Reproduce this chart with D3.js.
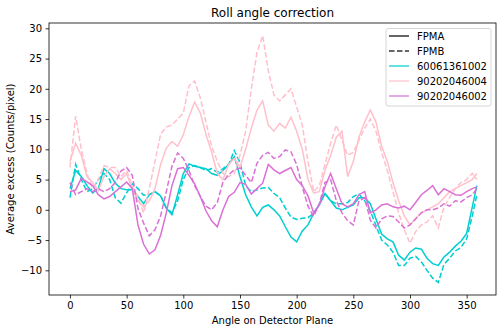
<!DOCTYPE html>
<html>
<head>
<meta charset="utf-8">
<script src="https://cdn.jsdelivr.net/npm/d3@7"></script>
<style>
body { margin: 0; background: #fff; }
text { font-family: "DejaVu Sans", sans-serif; fill: #000; }
</style>
</head>
<body>
<svg id="chart" width="502" height="333"></svg>
<script>
// angle on detector plane (deg)
var angles = [0,5,10,15,20,25,30,35,40,45, 50,55,60,65,70,75,80,85,90,95,
  100,105,110,115,120,125,130,135,140,145, 150,155,160,165,170,175,180,185,190,195,
  200,205,210,215,220,225,230,235,240,245, 250,255,260,265,270,275,280,285,290,295,
  300,305,310,315,320,325,330,335,340,345, 350,355,359];

// 60061361002
var cyanA = [3.5,6.5,5.5,4,2.8,3.5,6.8,6,4.4,3.5, 3.3,3.3,2.2,1,2.5,3,2.3,0.3,-0.8,2.5,
  6,7.6,7.2,7,6.8,6,5.7,6.5,7.5,8.8, 5.5,2.5,0.5,-1,0.4,0.8,0,-1,-2.8,-4.5,
  -5.3,-3.5,-2.5,-0.6,0.8,2.7,1.5,0.3,0,0.4, 0.8,2,2,1,-1.5,-4,-4.8,-5.3,-7.5,-8.3,
  -7,-6.3,-6.5,-8,-8.9,-9.2,-7.8,-7,-6,-5.2, -3.9,0.5,4];
var cyanB = [2,7.5,5,3,3.5,5,6,5,2,1.1, 2.8,4.3,3.5,2.4,2.5,3,2.3,0.3,-0.5,1.5,
  5,7,7.3,7,6.5,6.8,6.2,6.8,7.5,9.8, 7.8,4,3,3.3,3.6,3.7,2.7,2,0.3,-1.2,
  -1.6,-1.4,-1.3,-0.6,1,2.7,1.5,1,1,1.2, 2.2,2.6,1.5,-0.2,-2.6,-5,-5.8,-7,-9.2,-9.2,
  -8,-7.7,-8.6,-10,-11.3,-12,-9,-8,-6.8,-6.2, -4.8,-1,2.5];

// 90202046004
var pinkA = [8,11,9,5.5,4.5,3.2,5.5,6.8,6,5, 6,3.5,1.5,0.5,1.5,3.5,7.5,10.2,11.3,10.5,
  12.4,15.4,17.8,16,12.5,9.5,6,5,7.5,8.5, 7,10,13.5,16.5,18,14,13,14.3,13.5,15.3,
  13,10,5,2.8,3,6.5,9,12,13,5.5, 8,12,14.5,16.5,14.5,10.5,8,4.5,1.5,-1,
  -2.5,-1.4,-0.5,0,0.5,1,2,3,3.5,4, 4.5,5,6];
var pinkB = [7,15.5,10,6,3.5,5,7.3,7,7,5.5, 6.5,4,2,-0.5,3.5,8,12.5,13.7,14,15,
  16,20.5,21.3,18.5,14.5,10.5,8,6,5.5,6, 9,13,20,26,28.8,23,19,18,19,20,
  17,14,8,3,4,7.5,11,14,11.5,9, 9.5,11.5,13.5,15,13,9.5,6.5,3,-0.5,-3.3,
  -5.5,-3.6,-2.5,-2,-1,-3,0.5,2,3.5,4.5, 5,6,5];

// 90202046002
var magA = [3,3.3,5.2,4.6,4,2.5,1.8,2.2,3,3.8, 4.6,3.5,-2.5,-5.7,-7.3,-6.6,-4.2,-0.5,4,6.8,
  7,5.7,4.3,2.2,-0.2,-1.8,-2.8,0,2.2,2.9, 4.5,4.2,2.6,3.5,4.4,7.5,6.6,6,6.5,7,
  5,4,2.3,-0.5,0.8,3.8,6,3.5,1,0.5, 1,2.5,3,-0.5,0,0.8,1,0.5,0.3,0.6,
  0,1.2,2.5,3.2,4,2.5,3.5,3,2.5,2.4, 3,3.5,3.8];
var magB = [4.5,2.5,3,3.5,3,3.5,3,3.5,4.5,6.4, 7,5.7,0.2,-2.2,-4.3,-3.3,-1,3,7.2,9.4,
  8.5,6.5,4,2.2,0.6,0,1.2,4.6,5.8,6.6, 6.9,5.7,4.5,7.7,9,9.5,8.5,8.8,9.9,9.6,
  7.5,3.8,0.6,-1.1,1,4.5,5,1.5,-0.5,-1.8, -2.5,1.5,2,-1.7,-3,-1.5,-1,-1.1,-2,-3,
  -2.5,-1.5,-0.5,0,0,0.3,1,0.6,1.5,1.3, 2,2.5,3.5];

var obsids = ["60061361002", "90202046004", "90202046002"];
var colors = ["#00ced1", "#ffc0cb", "#da70d6"];
var xTicks = [0,50,100,150,200,250,300,350];
var yTicks = [-10,-5,0,5,10,15,20,25,30];

var series = [
    {obs: 0, dashed: false, vals: cyanA},
    {obs: 0, dashed: true,  vals: cyanB},
    {obs: 1, dashed: false, vals: pinkA},
    {obs: 1, dashed: true,  vals: pinkB},
    {obs: 2, dashed: false, vals: magA},
    {obs: 2, dashed: true,  vals: magB}
];

var svg = d3.select("#chart");
var plotL = 49, plotR = 496, plotT = 23, plotB = 295;

var x = d3.scaleLinear().domain([-18.5, 375.9]).range([plotL, plotR]);
var y = d3.scaleLinear().domain([-14.08, 30.88]).range([plotB, plotT]);

var line = d3.line()
    .x(function(d){ return x(d[0]); })
    .y(function(d){ return y(d[1]); });

var plot = svg.append("g").attr("class", "lines");
series.forEach(function(s){
    var pts = angles.map(function(a, i){ return [a, s.vals[i]]; });
    plot.append("path")
        .datum(pts)
        .attr("d", line)
        .attr("fill", "none")
        .attr("stroke", colors[s.obs])
        .attr("stroke-width", 1.5)
        .attr("stroke-dasharray", s.dashed ? "5.55,2.4" : null);
});

// axes
var xAxis = svg.append("g")
    .attr("transform", "translate(0," + plotB + ")")
    .call(d3.axisBottom(x).tickValues(xTicks).tickSize(3.5).tickPadding(3.5).tickSizeOuter(0));
var yAxis = svg.append("g")
    .attr("transform", "translate(" + plotL + ",0)")
    .call(d3.axisLeft(y).tickValues(yTicks).tickSize(3.5).tickPadding(3.5).tickSizeOuter(0));
[xAxis, yAxis].forEach(function(g){
    g.select(".domain").remove();
    g.selectAll("line").attr("stroke", "#000").attr("stroke-width", 0.8);
    g.selectAll("text").attr("font-size", 10).attr("font-family", "DejaVu Sans");
});

svg.append("rect")
    .attr("x", plotL).attr("y", plotT)
    .attr("width", plotR - plotL).attr("height", plotB - plotT)
    .attr("fill", "none").attr("stroke", "#000").attr("stroke-width", 0.8);

// labels
svg.append("text").attr("x", (plotL + plotR) / 2).attr("y", 17)
    .attr("text-anchor", "middle").attr("font-size", 12)
    .text("Roll angle correction");
svg.append("text").attr("x", (plotL + plotR) / 2).attr("y", 324)
    .attr("text-anchor", "middle").attr("font-size", 10)
    .text("Angle on Detector Plane");
svg.append("text")
    .attr("transform", "translate(14," + (plotT + plotB) / 2 + ") rotate(-90)")
    .attr("text-anchor", "middle").attr("font-size", 10)
    .text("Average excess (Counts/pixel)");

// legend
var legendItems = [
    {label: "FPMA", color: "#000", dashed: false},
    {label: "FPMB", color: "#000", dashed: true}
].concat(obsids.map(function(o, i){ return {label: o, color: colors[i], dashed: false}; }));

var lg = svg.append("g").attr("class", "legend");
lg.append("rect")
    .attr("x", 386).attr("y", 28.5).attr("width", 105).attr("height", 77.5)
    .attr("rx", 2).attr("fill", "#fff").attr("fill-opacity", 0.8)
    .attr("stroke", "#ccc").attr("stroke-width", 0.8);
var items = lg.selectAll("g.item").data(legendItems).enter().append("g")
    .attr("class", "item")
    .attr("transform", function(d, i){ return "translate(0," + (36 + i * 15) + ")"; });
items.append("line")
    .attr("x1", 389).attr("x2", 409).attr("y1", 0).attr("y2", 0)
    .attr("stroke", function(d){ return d.color; })
    .attr("stroke-opacity", 0.8)
    .attr("stroke-width", 1.5)
    .attr("stroke-dasharray", function(d){ return d.dashed ? "5.55,2.4" : null; });
items.append("text")
    .attr("x", 417).attr("y", 3.6)
    .attr("font-size", 10)
    .text(function(d){ return d.label; });
</script>
</body>
</html>
